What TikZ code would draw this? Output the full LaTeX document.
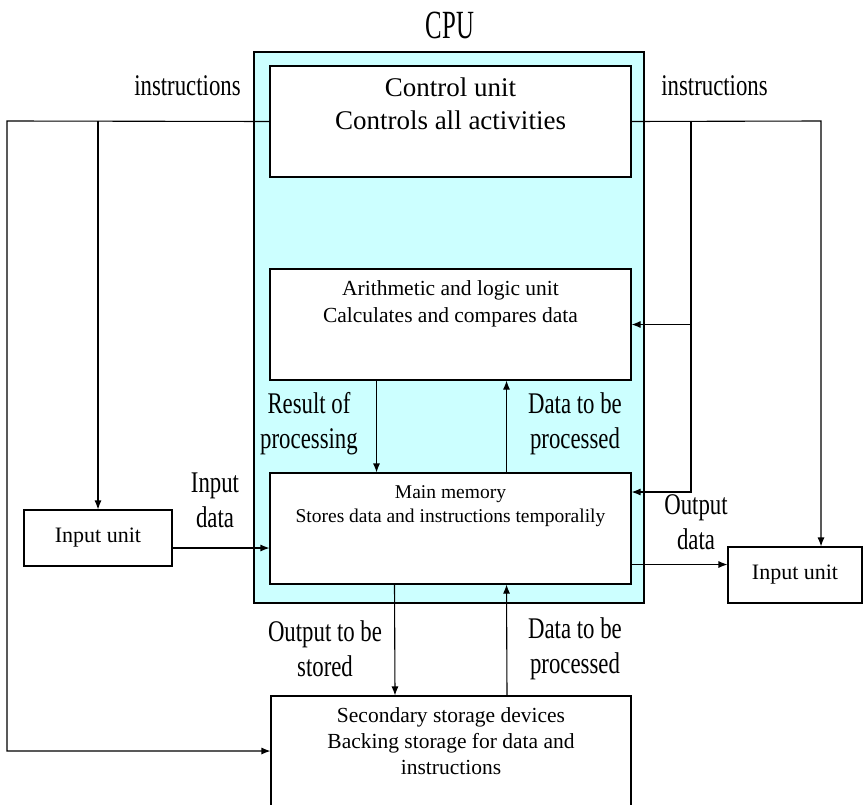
\documentclass[tikz,border=0pt]{standalone}
\usepackage{fontspec}
\setmainfont{Liberation Serif}
\newfontfamily\tagfont{Liberation Serif}[FakeStretch=0.76]
\newfontfamily\cpufont{Liberation Serif}[FakeStretch=0.62]
\usetikzlibrary{positioning,arrows.meta}
\definecolor{cpucyan}{RGB}{204,255,255}
\tikzset{
  unit/.style={draw, line width=1.1pt, fill=white, inner sep=0pt},
  unittxt/.style={align=center, inner sep=0pt},
  link/.style={line width=1.1pt, -{Latex[length=9pt,width=7pt]}},
  tag/.style={align=center, inner sep=0pt, font=\tagfont\fontsize{30}{35}\selectfont},
}
\begin{document}
\begin{tikzpicture}[x=1pt,y=-1pt]
\useasboundingbox (0,0) rectangle (864,805);
% cpu frame
\node [draw, line width=1.1pt, fill=cpucyan, minimum width=390pt, minimum height=551pt] (cpu) at (449,327.5) {};
\node [inner sep=0pt, font=\cpufont\fontsize{40}{40}\selectfont] (cpulbl) at (450,25) {CPU};
% units
\node [unit, minimum width=361pt, minimum height=111pt] (cu) at (450.5,121.5) {};
\node [unittxt, font=\fontsize{27}{33}\selectfont, below=12pt of cu.north] (cutxt) {Control unit\\Controls all activities};
\node [unit, minimum width=361pt, minimum height=111pt] (alu) at (450.5,324.5) {};
\node [unittxt, font=\fontsize{21.5}{27}\selectfont, below=12pt of alu.north] (alutxt) {Arithmetic and logic unit\\Calculates and compares data};
\node [unit, minimum width=361pt, minimum height=111pt] (mm) at (450.5,528.5) {};
\node [unittxt, font=\fontsize{19.5}{24}\selectfont, below=13pt of mm.north] (mmtxt) {Main memory\\Stores data and instructions temporalily};
\node [unit, minimum width=360pt, minimum height=116pt] (ss) at (451,754) {};
\node [unittxt, font=\fontsize{21.5}{26}\selectfont, below=12pt of ss.north] (sstxt) {Secondary storage devices\\Backing storage for data and\\instructions};
\node [unit, minimum width=148pt, minimum height=56pt, font=\fontsize{22}{22}\selectfont] (inl) at (98,538) {Input unit};
\node [unit, minimum width=134pt, minimum height=56pt, font=\fontsize{22}{22}\selectfont] (inr) at (795,575) {Input unit};
% instruction lines
\coordinate (lt) at (7,121);
\coordinate (lb) at (7,751);
\coordinate (rt) at (821,121);
\coordinate (ri) at (691,121);
\coordinate (mmlvl) at (0,492);
\draw [link] (cu.west) -- (lt) -- (lb) -- (lb -| ss.west);
\draw [link] (inl.north |- lt) -- (inl.north);
\draw [link] (cu.east) -- (rt) -- (rt |- inr.north);
\draw [link] (ri) |- (mm.east |- mmlvl);
\draw [link] (ri |- alu.east) -- (alu.east);
% data lines
\draw [link] ([yshift=-10pt]inl.east) -- ([yshift=-10pt]inl.east -| mm.west);
\coordinate (outy) at ([yshift=-36pt]mm.east);
\draw [link] (outy) -- (outy -| inr.west);
\draw [link] ([xshift=-74pt]alu.south) -- ([xshift=-74pt]mm.north);
\draw [link] ([xshift=56pt]mm.north) -- ([xshift=56pt]alu.south);
\draw [link] ([xshift=-56pt]mm.south) -- ([xshift=-56pt]ss.north);
\draw [link] ([xshift=56pt]ss.north) -- ([xshift=56pt]mm.south);
% labels
\node [tag] (instl) at (187.5,86) {instructions};
\node [tag] (instr) at (714.5,86) {instructions};
\node [tag] (result) at (309,424) {Result of\\processing};
\node [tag] (toalu) at (575,424) {Data to be\\processed};
\node [tag] (indata) at (215,500) {Input\\data};
\node [tag] (outdata) at (696,522) {Output\\data};
\node [tag] (tostore) at (325,649) {Output to be\\stored};
\node [tag] (tomm) at (575,649) {Data to be\\processed};
\end{tikzpicture}
\end{document}
